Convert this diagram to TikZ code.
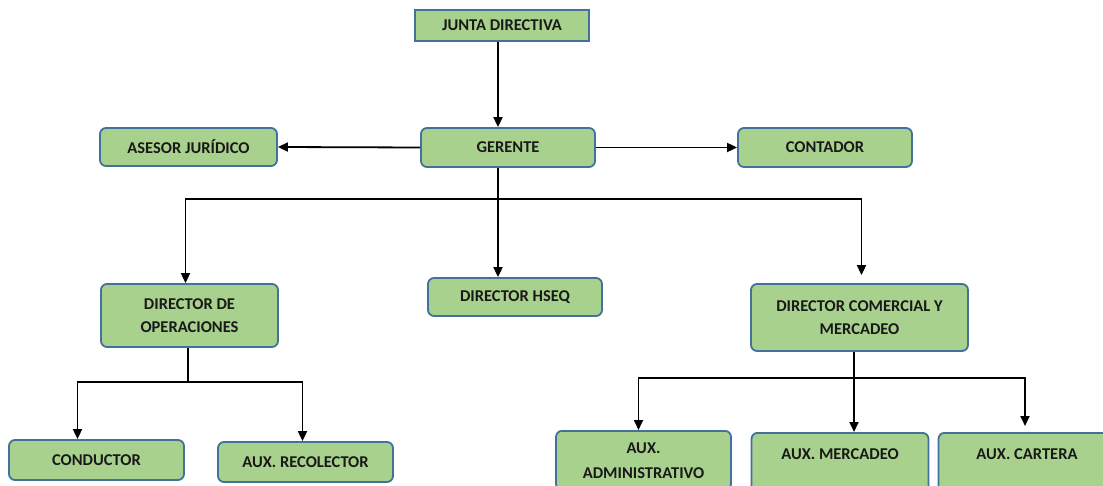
\documentclass[tikz,border=0pt]{standalone}
\usepackage{fontspec}
\setmainfont{Carlito}
\usetikzlibrary{arrows.meta,calc}
\definecolor{boxfill}{HTML}{A9D18E}
\definecolor{boxline}{HTML}{41719C}
\tikzset{
  box/.style={draw=boxline, fill=boxfill, line width=1.8pt, rounded corners=6pt,
    inner sep=0pt, align=center, font=\fontsize{16.5}{23}\selectfont\bfseries, text=black!90},
  sqbox/.style={box, rounded corners=0pt},
  arr/.style={line width=1.8pt, -{Triangle[length=10pt,width=9pt]}},
  ln/.style={line width=1.8pt}
}
\begin{document}
\begin{tikzpicture}[x=1pt,y=-1pt]
\clip (0,0) rectangle (1103,486);
\fill[white] (0,0) rectangle (1103,486);
% nodes
\node[sqbox, minimum width=174pt, minimum height=31pt] (jun) at (502,25.5) {JUNTA DIRECTIVA};
\node[box, minimum width=174pt, minimum height=39pt] (ger) at (508,147.5) {GERENTE};
\node[box, minimum width=177pt, minimum height=38pt] (ase) at (188.5,147) {ASESOR JURÍDICO};
\node[box, minimum width=174pt, minimum height=39pt] (con) at (825,147.5) {CONTADOR};
\node[box, minimum width=177pt, minimum height=63pt] (dop) at (189.5,315.5) {DIRECTOR DE\\OPERACIONES};
\node[box, minimum width=174pt, minimum height=38pt] (hsq) at (515,297) {DIRECTOR HSEQ};
\node[box, minimum width=217pt, minimum height=67pt] (dcm) at (859.5,317.5) {DIRECTOR COMERCIAL Y\\MERCADEO};
\node[box, minimum width=175pt, minimum height=40pt] (cond) at (96.5,460) {CONDUCTOR};
\node[box, minimum width=175pt, minimum height=40pt] (rec) at (305.5,462) {AUX. RECOLECTOR};
\node[box, anchor=north, minimum width=175pt, minimum height=59pt, font=\fontsize{16.5}{25}\selectfont\bfseries] (adm) at (643.5,430) {AUX.\\ADMINISTRATIVO};
\node[box, anchor=north, minimum width=177pt, text height=27pt, text depth=33pt] (mer) at (840,432) {AUX. MERCADEO};
\node[box, anchor=north, minimum width=177pt, text height=27pt, text depth=33pt] (car) at (1027,432) {AUX. CARTERA};
% coordinates
\coordinate (b1) at (498,199);
\coordinate (b2) at (188,382);
\coordinate (b3) at (854,378);
% connectors
\draw[arr] (jun.south -| b1) -- (ger.north -| b1);
\draw[arr] (ger.west) -- (ase.east);
\draw[arr] (ger.east) -- (con.west);
\draw[ln] (ger.south -| b1) -- (b1);
\draw[arr] (b1) -| ([xshift=-4pt]dop.north);
\draw[arr] (b1) -- (hsq.north -| b1);
\draw[arr, shorten >=8pt] (b1) -| ([xshift=2pt]dcm.north);
\draw[ln] (dop.south -| b2) -- (b2);
\draw[arr] (b2) -| ([xshift=-19pt]cond.north);
\draw[arr] (b2) -| ([xshift=-3pt]rec.north);
\draw[ln] (dcm.south -| b3) -- (b3);
\draw[arr] (b3) -| ([xshift=-5pt]adm.north);
\draw[arr] (b3) -- (mer.north -| b3);
\draw[arr, shorten >=6pt] (b3) -| ([xshift=-2pt]car.north);
\end{tikzpicture}
\end{document}
